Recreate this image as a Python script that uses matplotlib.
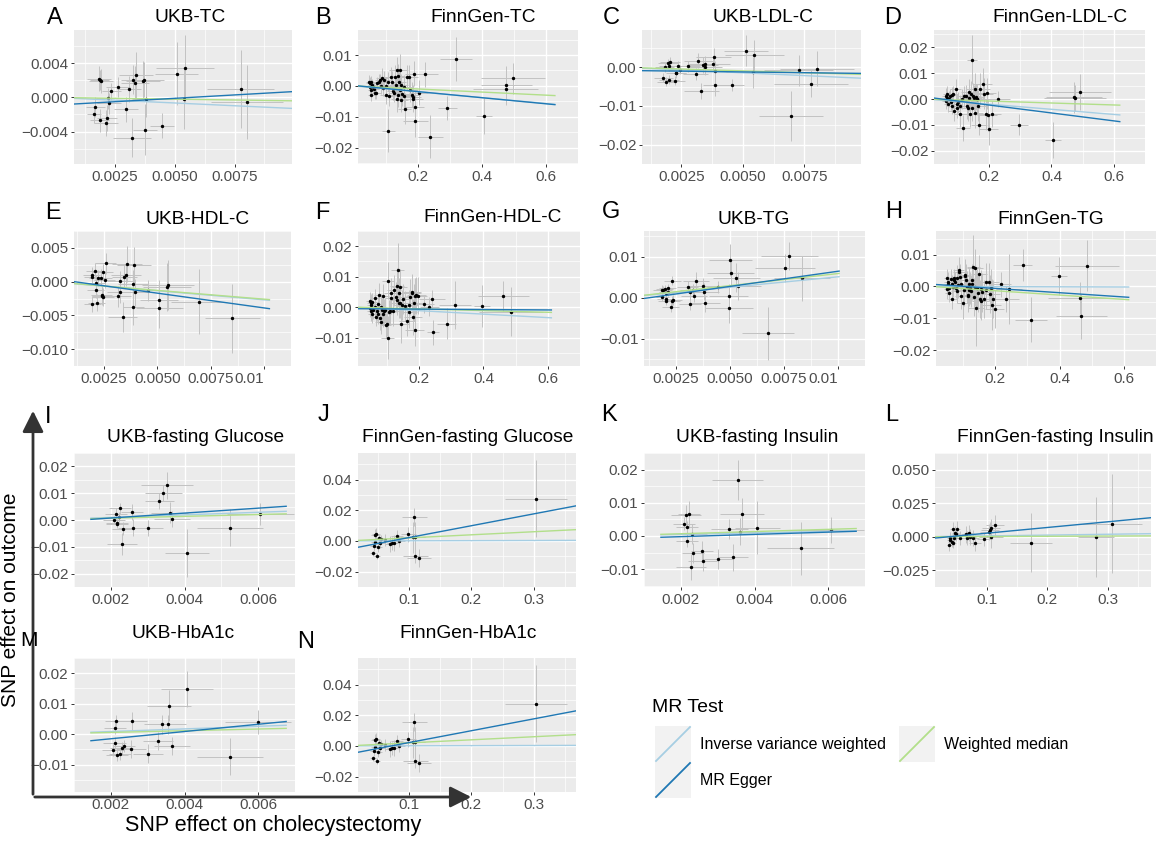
import numpy as np
import matplotlib
matplotlib.use("Agg")
import matplotlib.pyplot as plt
from matplotlib.patches import Rectangle, FancyArrowPatch

plt.rcParams['font.family'] = ['Liberation Sans', 'DejaVu Sans']

# ---------------- data: (SNP effect on exposure, on outcome, se_x, se_y) ----------------
A_pts = [(0.00183,0.00221,0.0005,0.0015),(0.00188,0.00206,0.0004,0.0012),(0.00192,0.00190,0.0005,0.0014),
         (0.00235,0.00070,0.0004,0.0010),(0.00222,-0.00010,0.0005,0.0012),(0.00225,-0.00070,0.0005,0.0012),
         (0.00169,-0.00110,0.0004,0.0012),(0.00164,-0.00200,0.0003,0.0010),(0.00188,-0.00270,0.0004,0.0014),
         (0.00218,-0.00240,0.0004,0.0015),(0.00214,-0.00300,0.0005,0.0015),(0.00265,0.00124,0.0005,0.0012),
         (0.00297,-0.00140,0.0005,0.0015),(0.00308,0.00097,0.0005,0.0015),(0.00328,0.00206,0.0005,0.0017),
         (0.00338,0.00260,0.0007,0.0027),(0.00335,0.00167,0.0006,0.0020),(0.00369,0.00198,0.0007,0.0023),
         (0.00374,0.00210,0.0008,0.0021),(0.00322,-0.00470,0.0008,0.0023),(0.00378,-0.00380,0.0005,0.0030),
         (0.00382,-0.00020,0.0006,0.0021),(0.00447,-0.00330,0.0005,0.0015),(0.00508,0.00280,0.0009,0.0037),
         (0.00544,0.00340,0.0012,0.0039),(0.00538,-0.00016,0.0011,0.0035),(0.00776,0.00100,0.0014,0.0046),
         (0.00801,-0.00054,0.0015,0.0043)]
B_pts = [(0.048,0.0014,0.010,0.002),(0.052,0.0009,0.012,0.002),(0.056,0.0013,0.010,0.002),(0.050,-0.0002,0.012,0.002),
         (0.058,0.0003,0.014,0.002),(0.054,-0.0013,0.010,0.002),(0.060,-0.0004,0.012,0.002),(0.063,-0.0011,0.015,0.002),
         (0.056,-0.0029,0.012,0.002),(0.067,-0.0024,0.015,0.002),(0.071,-0.0022,0.014,0.002),(0.074,0.0009,0.015,0.002),
         (0.079,0.0014,0.016,0.0025),(0.082,0.0019,0.015,0.002),(0.086,0.0000,0.016,0.0025),(0.089,0.0027,0.018,0.003),
         (0.093,-0.0008,0.016,0.0025),(0.095,0.0019,0.018,0.003),(0.100,0.0000,0.020,0.003),(0.102,-0.0029,0.018,0.003),
         (0.107,0.0014,0.020,0.003),(0.112,-0.0034,0.018,0.003),(0.116,0.0030,0.020,0.003),(0.119,0.0014,0.022,0.0035),
         (0.123,-0.0015,0.020,0.003),(0.127,-0.0022,0.020,0.003),(0.130,0.0028,0.022,0.004),(0.132,0.0003,0.020,0.003),
         (0.135,0.0052,0.024,0.004),(0.140,0.0032,0.022,0.004),(0.141,0.0011,0.024,0.0035),(0.144,-0.0013,0.022,0.003),
         (0.145,0.0052,0.025,0.005),(0.147,-0.0045,0.024,0.004),(0.149,0.0003,0.022,0.0035),(0.151,-0.0026,0.025,0.004),
         (0.140,-0.0029,0.022,0.004),(0.136,-0.0043,0.020,0.004),(0.156,-0.0004,0.025,0.004),(0.158,-0.0034,0.024,0.004),
         (0.160,-0.0074,0.020,0.005),(0.167,0.0028,0.025,0.004),(0.173,0.0028,0.028,0.004),(0.177,-0.0013,0.025,0.004),
         (0.181,-0.0029,0.026,0.004),(0.184,-0.0037,0.028,0.004),(0.186,-0.0043,0.030,0.004),(0.188,0.0039,0.028,0.004),
         (0.191,-0.0067,0.030,0.005),(0.193,-0.0114,0.040,0.005),(0.203,-0.0022,0.030,0.004),(0.223,0.0037,0.040,0.004),
         (0.108,-0.0145,0.020,0.007),(0.240,-0.0165,0.040,0.007),(0.293,-0.0072,0.030,0.004),(0.319,0.0087,0.050,0.007),
         (0.407,-0.0097,0.025,0.006),(0.474,-0.0011,0.100,0.005),(0.477,0.0004,0.080,0.006),(0.496,0.0024,0.100,0.005)]
C_pts = [(0.00182,0.0000,0.0004,0.0012),(0.00177,-0.0027,0.0004,0.0012),(0.00189,-0.0037,0.0004,0.0012),
         (0.00196,0.0010,0.0004,0.0012),(0.00199,0.0003,0.0004,0.0012),(0.00203,0.0013,0.0004,0.0012),
         (0.00201,-0.0032,0.0004,0.0012),(0.00227,-0.0014,0.0004,0.0012),(0.00230,-0.0016,0.0004,0.0012),
         (0.00226,-0.0035,0.0004,0.0012),(0.00235,0.0003,0.0005,0.0012),(0.00246,-0.0006,0.0005,0.0012),
         (0.00276,0.0002,0.0005,0.0015),(0.00308,-0.0017,0.0005,0.0015),(0.00319,0.0017,0.0006,0.0020),
         (0.00338,0.0006,0.0006,0.0020),(0.00345,0.0008,0.0007,0.0020),(0.00346,0.0000,0.0007,0.0020),
         (0.00331,-0.0062,0.0007,0.0020),(0.00381,0.0025,0.0007,0.0025),(0.00378,0.0009,0.0007,0.0020),
         (0.00388,-0.0010,0.0007,0.0025),(0.00388,-0.0045,0.0005,0.0030),(0.00455,-0.0046,0.0005,0.0015),
         (0.00514,0.0043,0.0009,0.0040),(0.00547,0.0031,0.0012,0.0040),(0.00543,-0.0013,0.0011,0.0040),
         (0.00696,-0.0126,0.0013,0.0065),(0.00727,-0.0008,0.0014,0.0040),(0.00776,-0.0043,0.0015,0.0035),
         (0.00801,-0.0004,0.0015,0.0045)]
D_pts = [(0.061,0.0013,0.012,0.003),(0.064,0.0003,0.012,0.003),(0.061,-0.0007,0.012,0.003),(0.066,0.0020,0.014,0.003),
         (0.068,-0.0020,0.014,0.003),(0.070,0.0000,0.015,0.003),(0.073,0.0010,0.015,0.003),(0.076,-0.0013,0.015,0.003),
         (0.080,-0.0026,0.016,0.003),(0.082,0.0016,0.016,0.003),(0.085,0.0020,0.016,0.003),(0.087,-0.0046,0.018,0.004),
         (0.092,0.0039,0.018,0.004),(0.096,-0.0020,0.018,0.004),(0.098,-0.0033,0.020,0.004),(0.101,-0.0013,0.020,0.004),
         (0.106,-0.0026,0.020,0.004),(0.108,-0.0059,0.020,0.005),(0.113,0.0000,0.022,0.004),(0.115,-0.0111,0.022,0.005),
         (0.120,0.0010,0.022,0.004),(0.125,0.0013,0.022,0.004),(0.129,-0.0026,0.024,0.005),(0.132,-0.0033,0.024,0.005),
         (0.134,0.0026,0.024,0.005),(0.136,0.0003,0.024,0.005),(0.139,-0.0059,0.025,0.005),(0.142,0.0020,0.025,0.005),
         (0.144,-0.0033,0.025,0.005),(0.145,0.0152,0.015,0.0095),(0.148,0.0013,0.025,0.005),(0.151,0.0003,0.026,0.005),
         (0.153,0.0039,0.026,0.006),(0.155,-0.0052,0.026,0.006),(0.158,0.0007,0.026,0.005),(0.160,0.0000,0.028,0.005),
         (0.162,0.0000,0.028,0.006),(0.164,-0.0026,0.028,0.006),(0.167,-0.0099,0.025,0.004),(0.172,0.0039,0.030,0.006),
         (0.179,0.0059,0.030,0.006),(0.183,0.0020,0.030,0.006),(0.189,-0.0059,0.030,0.006),(0.192,0.0023,0.030,0.006),
         (0.195,-0.0063,0.030,0.006),(0.198,-0.0117,0.030,0.006),(0.208,-0.0059,0.030,0.005),(0.228,0.0000,0.040,0.003),
         (0.296,-0.0099,0.030,0.004),(0.405,-0.0158,0.025,0.007),(0.473,0.0007,0.090,0.006),(0.475,0.0003,0.100,0.005),
         (0.492,0.0026,0.100,0.007)]
E_pts = [(0.00192,0.00104,0.0004,0.0012),(0.00195,0.00065,0.0004,0.0012),(0.00206,0.0016,0.0004,0.0012),
         (0.00213,-0.0002,0.0004,0.0012),(0.00212,-0.0012,0.0004,0.0012),(0.00195,-0.0033,0.0004,0.0012),
         (0.00216,-0.0031,0.0004,0.0012),(0.00222,0.0005,0.0004,0.0012),(0.00236,0.0006,0.0005,0.0012),
         (0.00244,0.0014,0.0005,0.0012),(0.00240,-0.0020,0.0005,0.0013),(0.00243,-0.0021,0.0005,0.0013),
         (0.00246,-0.0023,0.0005,0.0013),(0.00254,0.0003,0.0005,0.0013),(0.00258,0.0027,0.0005,0.0015),
         (0.00326,0.0001,0.0006,0.0015),(0.00326,-0.0016,0.0006,0.0015),(0.00315,-0.0022,0.0006,0.0015),
         (0.00346,0.0007,0.0006,0.0017),(0.00353,0.0010,0.0007,0.0017),(0.00357,0.0026,0.0007,0.0027),
         (0.00337,-0.0052,0.0007,0.0022),(0.00385,-0.0003,0.0007,0.0020),(0.00392,0.0024,0.0008,0.0027),
         (0.00395,-0.0016,0.0007,0.0020),(0.00388,-0.0037,0.0005,0.0027),(0.00458,-0.0013,0.0005,0.0015),
         (0.00508,-0.0027,0.0009,0.0030),(0.00508,-0.0039,0.0011,0.0030),(0.00545,-0.0008,0.0011,0.0035),
         (0.00549,-0.0005,0.0012,0.0037),(0.00694,-0.0030,0.0013,0.0048),(0.00851,-0.0054,0.0013,0.0051)]
F_pts = [(0.046,0.0020,0.012,0.003),(0.049,0.0013,0.012,0.003),(0.051,0.0007,0.012,0.003),(0.047,-0.0003,0.012,0.003),
         (0.049,-0.0014,0.012,0.003),(0.052,-0.0021,0.012,0.003),(0.055,0.0018,0.013,0.003),(0.058,-0.0009,0.013,0.003),
         (0.062,0.0002,0.014,0.003),(0.064,0.0029,0.014,0.003),(0.067,-0.0032,0.014,0.003),(0.069,-0.0014,0.015,0.003),
         (0.071,-0.0024,0.015,0.003),(0.073,0.0011,0.015,0.003),(0.076,0.0041,0.016,0.004),(0.078,-0.0035,0.016,0.004),
         (0.080,-0.0049,0.016,0.004),(0.082,0.0002,0.016,0.004),(0.085,-0.0009,0.017,0.004),(0.087,-0.0024,0.017,0.004),
         (0.089,0.0036,0.017,0.004),(0.091,-0.0014,0.018,0.004),(0.094,-0.0009,0.018,0.004),(0.096,-0.0060,0.018,0.004),
         (0.100,-0.0056,0.018,0.004),(0.103,0.0087,0.018,0.006),(0.105,-0.0017,0.020,0.004),(0.110,-0.0014,0.020,0.004),
         (0.112,0.0045,0.020,0.005),(0.114,0.0029,0.020,0.005),(0.119,-0.0011,0.020,0.005),(0.123,0.0055,0.022,0.005),
         (0.128,0.0034,0.022,0.005),(0.130,0.0023,0.022,0.005),(0.132,0.0068,0.022,0.006),(0.134,0.0121,0.020,0.009),
         (0.136,0.0045,0.022,0.005),(0.138,0.0015,0.024,0.005),(0.139,0.0066,0.024,0.006),(0.141,0.0013,0.024,0.005),
         (0.143,-0.0056,0.024,0.006),(0.146,0.0007,0.024,0.005),(0.150,0.0026,0.025,0.005),(0.155,0.0004,0.025,0.005),
         (0.161,-0.0046,0.025,0.005),(0.167,-0.0017,0.026,0.005),(0.170,0.0007,0.026,0.005),(0.173,0.0034,0.026,0.006),
         (0.177,0.0047,0.028,0.006),(0.179,0.0050,0.028,0.006),(0.182,-0.0032,0.028,0.006),(0.185,0.0015,0.028,0.006),
         (0.186,-0.0076,0.030,0.005),(0.188,0.0036,0.030,0.006),(0.191,0.0039,0.030,0.006),(0.195,0.0038,0.030,0.006),
         (0.215,0.0010,0.030,0.003),(0.232,0.0002,0.030,0.003),(0.241,0.0028,0.040,0.003),(0.243,-0.0083,0.020,0.004),
         (0.286,-0.0054,0.030,0.005),(0.311,0.0007,0.050,0.008),(0.396,0.0004,0.025,0.007),(0.462,0.0036,0.080,0.005),
         (0.485,-0.0015,0.100,0.008),(0.103,-0.0100,0.020,0.007)]
G_pts = [(0.00183,0.0020,0.0004,0.0010),(0.00185,0.0002,0.0003,0.0010),(0.00190,0.0018,0.0004,0.0010),
         (0.00196,0.0022,0.0004,0.0010),(0.00201,0.0011,0.0004,0.0010),(0.00202,-0.0004,0.0004,0.0010),
         (0.00205,-0.0007,0.0004,0.0010),(0.00210,0.0023,0.0004,0.0010),(0.00212,0.0013,0.0004,0.0010),
         (0.00225,-0.0022,0.0004,0.0012),(0.00230,-0.0008,0.0004,0.0012),(0.00235,-0.0006,0.0004,0.0012),
         (0.00232,0.0042,0.0004,0.0012),(0.00303,0.0027,0.0005,0.0015),(0.00313,0.0013,0.0005,0.0015),
         (0.00314,-0.0016,0.0005,0.0015),(0.00326,0.0019,0.0006,0.0015),(0.00332,0.0004,0.0006,0.0015),
         (0.00341,0.0042,0.0006,0.0020),(0.00373,0.0029,0.0007,0.0020),(0.00378,0.0015,0.0007,0.0020),
         (0.00382,-0.0014,0.0007,0.0020),(0.00445,0.0027,0.0005,0.0015),(0.00494,0.0004,0.0009,0.0030),
         (0.00494,-0.0026,0.0011,0.0035),(0.00501,0.0092,0.0010,0.0040),(0.00502,0.0061,0.0011,0.0030),
         (0.00529,0.0049,0.0011,0.0035),(0.00535,0.0029,0.0011,0.0035),(0.00676,-0.0087,0.0012,0.0065),
         (0.00753,0.0073,0.0014,0.0035),(0.00775,0.0102,0.0013,0.0035),(0.00833,0.0047,0.0013,0.0055)]
H_pts = [(0.050,0.0026,0.010,0.003),(0.052,0.0014,0.010,0.003),(0.053,0.0009,0.012,0.003),(0.055,0.0001,0.012,0.003),
         (0.056,-0.0006,0.012,0.003),(0.050,-0.0009,0.010,0.003),(0.057,-0.0020,0.012,0.003),(0.062,0.0024,0.014,0.003),
         (0.065,0.0007,0.014,0.003),(0.066,-0.0041,0.014,0.003),(0.068,-0.0002,0.015,0.003),(0.071,0.0019,0.015,0.003),
         (0.073,0.0026,0.015,0.003),(0.075,0.0014,0.016,0.003),(0.077,-0.0006,0.016,0.003),(0.080,-0.0013,0.016,0.004),
         (0.082,0.0026,0.016,0.004),(0.084,0.0003,0.017,0.004),(0.086,0.0051,0.017,0.004),(0.088,0.0044,0.018,0.004),
         (0.091,0.0031,0.018,0.004),(0.093,-0.0030,0.018,0.004),(0.095,0.0007,0.018,0.004),(0.100,-0.0053,0.020,0.005),
         (0.102,-0.0011,0.020,0.005),(0.105,0.0037,0.020,0.005),(0.107,0.0033,0.020,0.005),(0.109,0.0020,0.022,0.005),
         (0.111,-0.0002,0.022,0.005),(0.114,-0.0028,0.022,0.005),(0.116,-0.0030,0.022,0.005),(0.118,0.0009,0.022,0.005),
         (0.120,-0.0011,0.024,0.005),(0.123,-0.0006,0.024,0.005),(0.125,-0.0016,0.024,0.005),(0.127,0.0019,0.024,0.005),
         (0.129,0.0006,0.024,0.005),(0.132,0.0061,0.020,0.010),(0.135,-0.0034,0.025,0.006),(0.136,-0.0002,0.025,0.006),
         (0.138,0.0059,0.025,0.006),(0.141,-0.0067,0.025,0.012),(0.144,-0.0006,0.025,0.006),(0.147,-0.0020,0.026,0.006),
         (0.150,0.0040,0.026,0.006),(0.153,-0.0039,0.026,0.006),(0.155,-0.0046,0.026,0.006),(0.156,-0.0007,0.028,0.006),
         (0.159,-0.0019,0.028,0.006),(0.164,-0.0039,0.028,0.006),(0.171,0.0014,0.028,0.006),(0.173,-0.0011,0.028,0.006),
         (0.182,0.0014,0.030,0.006),(0.185,-0.0025,0.030,0.006),(0.186,-0.0006,0.030,0.006),(0.189,-0.0057,0.030,0.008),
         (0.193,-0.0039,0.030,0.006),(0.198,-0.0072,0.030,0.006),(0.218,0.0006,0.030,0.004),(0.235,-0.0039,0.040,0.004),
         (0.244,-0.0007,0.040,0.011),(0.286,0.0066,0.030,0.005),(0.311,-0.0104,0.050,0.007),(0.398,0.0033,0.025,0.006),
         (0.464,-0.0037,0.100,0.005),(0.468,-0.0094,0.080,0.007),(0.485,0.0065,0.100,0.008)]
I_pts = [(0.00208,0.0000,0.0003,0.0015),(0.00213,0.0024,0.0003,0.0020),(0.00216,-0.0011,0.0003,0.0015),
         (0.00216,-0.0016,0.0003,0.0015),(0.00222,0.0011,0.0003,0.0020),(0.00226,0.0044,0.0003,0.0020),
         (0.00232,-0.0032,0.0003,0.0025),(0.00230,-0.0090,0.0004,0.0040),(0.00257,0.0029,0.0003,0.0030),
         (0.00259,-0.0028,0.0004,0.0030),(0.00302,-0.0030,0.0004,0.0030),(0.00332,0.0071,0.0004,0.0030),
         (0.00342,0.0100,0.0005,0.0030),(0.00353,0.0130,0.0007,0.0050),(0.00360,0.0027,0.0005,0.0040),
         (0.00366,0.0003,0.0005,0.0030),(0.00407,-0.0124,0.0006,0.0090),(0.00524,-0.0028,0.0009,0.0070),
         (0.00606,0.0022,0.0009,0.0040)]
J_pts = [(0.042,-0.0080,0.005,0.0015),(0.044,-0.0035,0.006,0.003),(0.045,-0.0004,0.006,0.003),(0.046,0.0037,0.007,0.004),
         (0.047,0.0045,0.007,0.004),(0.048,-0.0096,0.005,0.002),(0.050,-0.0041,0.006,0.003),(0.052,0.0016,0.007,0.003),
         (0.054,-0.0016,0.007,0.003),(0.055,0.0012,0.006,0.003),(0.062,0.0008,0.008,0.004),(0.069,-0.0020,0.008,0.005),
         (0.072,-0.0016,0.008,0.004),(0.075,-0.0014,0.008,0.005),(0.081,0.0030,0.010,0.004),(0.084,0.0000,0.010,0.004),
         (0.099,0.0043,0.012,0.005),(0.108,0.0155,0.020,0.006),(0.106,0.0023,0.020,0.010),(0.110,0.0023,0.015,0.010),
         (0.110,-0.0096,0.020,0.005),(0.116,-0.0112,0.020,0.006),(0.304,0.0276,0.050,0.025)]
K_pts = [(0.00209,0.0037,0.0003,0.002),(0.00214,0.0064,0.0004,0.003),(0.00216,0.0026,0.0003,0.002),
         (0.00216,-0.0014,0.0003,0.002),(0.00222,0.0065,0.0003,0.004),(0.00230,0.0007,0.0004,0.003),
         (0.00233,-0.0051,0.0003,0.003),(0.00228,-0.0093,0.0004,0.004),(0.00257,-0.0045,0.0003,0.003),
         (0.00259,-0.0076,0.0004,0.003),(0.00302,-0.0069,0.0004,0.003),(0.00332,0.0020,0.0005,0.003),
         (0.00342,-0.0065,0.0004,0.004),(0.00354,0.0168,0.0007,0.006),(0.00360,0.0013,0.0005,0.004),
         (0.00366,0.0065,0.0006,0.005),(0.00408,0.0025,0.0006,0.008),(0.00525,-0.0037,0.0009,0.008),
         (0.00607,0.0018,0.0009,0.004)]
L_pts = [(0.038,-0.0063,0.004,0.004),(0.039,-0.0008,0.005,0.004),(0.040,-0.0021,0.005,0.004),(0.042,-0.0036,0.006,0.004),
         (0.044,0.0059,0.005,0.005),(0.044,-0.0046,0.005,0.004),(0.046,-0.0008,0.006,0.005),(0.048,0.0027,0.006,0.005),
         (0.049,0.0017,0.006,0.005),(0.050,0.0059,0.006,0.006),(0.056,-0.0008,0.007,0.005),(0.066,0.0017,0.008,0.006),
         (0.068,-0.0008,0.008,0.005),(0.071,0.0025,0.008,0.006),(0.073,-0.0004,0.009,0.006),(0.077,-0.0008,0.010,0.006),
         (0.081,-0.0046,0.010,0.006),(0.096,-0.0017,0.012,0.005),(0.104,0.0038,0.015,0.006),(0.106,0.0048,0.015,0.006),
         (0.107,0.0063,0.015,0.007),(0.107,-0.0004,0.020,0.008),(0.114,0.0084,0.015,0.008),(0.173,-0.0046,0.035,0.022),
         (0.281,-0.0004,0.030,0.030),(0.307,0.0096,0.050,0.037)]
M_pts = [(0.00207,-0.0051,0.0003,0.002),(0.00210,-0.0029,0.0003,0.002),(0.00212,0.0019,0.0003,0.002),
         (0.00214,0.0042,0.0003,0.002),(0.00217,-0.0067,0.0003,0.002),(0.00224,-0.0064,0.0003,0.002),
         (0.00229,-0.0045,0.0003,0.002),(0.00236,-0.0039,0.0003,0.002),(0.00255,-0.0048,0.0004,0.003),
         (0.00258,0.0042,0.0004,0.003),(0.00301,-0.0064,0.0004,0.003),(0.00328,-0.0023,0.0004,0.003),
         (0.00340,0.0032,0.0005,0.003),(0.00354,0.0032,0.0005,0.003),(0.00359,0.0094,0.0006,0.005),
         (0.00366,-0.0039,0.0005,0.003),(0.00407,0.0148,0.0007,0.006),(0.00523,-0.0074,0.0009,0.006),
         (0.00600,0.0039,0.0009,0.004)]
N_pts = list(J_pts)

# MR fits: IVW slope, MR Egger (slope, intercept), weighted median slope
A_fit = dict(ivw=-0.13, egger=(0.159, -0.0009), wm=-0.04)
B_fit = dict(ivw=-0.0095, egger=(-0.0099, 0.00014), wm=-0.005)
C_fit = dict(ivw=-0.29, egger=(-0.079, -0.00083), wm=-0.19)
D_fit = dict(ivw=-0.0099, egger=(-0.0153, 0.00075), wm=-0.0038)
E_fit = dict(ivw=-0.27, egger=(-0.438, 0.00048), wm=-0.26)
F_fit = dict(ivw=-0.0057, egger=(-0.00067, -0.0005), wm=-0.0028)
G_fit = dict(ivw=0.51, egger=(0.74, -0.00094), wm=0.59)
H_fit = dict(ivw=-0.0003, egger=(-0.0067, 0.0007), wm=-0.0068)
I_fit = dict(ivw=0.48, egger=(0.92, -0.0011), wm=0.34)
J_fit = dict(ivw=0.001, egger=(0.0771, -0.0055), wm=0.02)
K_fit = dict(ivw=0.23, egger=(0.34, -0.0009), wm=0.33)
L_fit = dict(ivw=0.0062, egger=(0.0425, -0.0016), wm=0.0017)
M_fit = dict(ivw=0.43, egger=(1.19, -0.0039), wm=0.28)
N_fit = dict(J_fit)

titles = ['UKB-TC', 'FinnGen-TC', 'UKB-LDL-C', 'FinnGen-LDL-C', 'UKB-HDL-C', 'FinnGen-HDL-C', 'UKB-TG',
          'FinnGen-TG', 'UKB-fasting Glucose', 'FinnGen-fasting Glucose', 'UKB-fasting Insulin',
          'FinnGen-fasting Insulin', 'UKB-HbA1c', 'FinnGen-HbA1c']
letters = list('ABCDEFGHIJKLMN')

# tick sets
xt_ukb1 = ([0.0025, 0.005, 0.0075], ['0.0025', '0.0050', '0.0075'])
xt_ukb2 = ([0.0025, 0.005, 0.0075, 0.01], ['0.0025', '0.0050', '0.0075', '0.01'])
xt_fg = ([0.2, 0.4, 0.6], ['0.2', '0.4', '0.6'])
xt_ukb3 = ([0.002, 0.004, 0.006], ['0.002', '0.004', '0.006'])
xt_fg2 = ([0.1, 0.2, 0.3], ['0.1', '0.2', '0.3'])

# ---------------- layout ----------------
W, H = 1159, 842
fig = plt.figure(figsize=(W / 100, H / 100), dpi=100)

COL_IVW, COL_EGG, COL_WM = '#A6CEE3', '#1F78B4', '#B2DF8A'

panels = [
    (A_pts, A_fit, (74, 292, 30, 164), (0.0008, 0.0099), (-0.0078, 0.0079), xt_ukb1,
     ([-0.004, 0, 0.004], ['\u22120.004', '0.000', '0.004']), (55, 18), (190, 18)),
    (B_pts, B_fit, (358, 578, 30, 164), (0.014, 0.628), (-0.0253, 0.0181), xt_fg,
     ([-0.02, -0.01, 0, 0.01], ['\u22120.02', '\u22120.01', '0.00', '0.01']), (323, 18), (483, 18)),
    (C_pts, C_fit, (642, 861, 30, 164), (0.0009, 0.0098), (-0.0204, 0.0096), xt_ukb1,
     ([-0.02, -0.01, 0], ['\u22120.02', '\u22120.01', '0.00']), (611, 18), (763, 18)),
    (D_pts, D_fit, (934, 1145, 30, 164), (0.023, 0.619), (-0.0251, 0.0267), xt_fg,
     ([-0.02, -0.01, 0, 0.01, 0.02], ['\u22120.02', '\u22120.01', '0.00', '0.01', '0.02']), (893, 18), (1060, 18)),
    (E_pts, E_fit, (74, 291, 231, 366), (0.0011, 0.01024), (-0.0113, 0.0063), xt_ukb2,
     ([-0.01, -0.005, 0, 0.005], ['\u22120.010', '\u22120.005', '0.000', '0.005']), (53, 213), (198, 219)),
    (F_pts, F_fit, (358, 580, 231, 366), (0.010, 0.611), (-0.0193, 0.0238), xt_fg,
     ([-0.01, 0, 0.01, 0.02], ['\u22120.01', '0.00', '0.01', '0.02']), (322, 213), (493, 218)),
    (G_pts, G_fit, (644, 865, 231, 366), (0.00101, 0.01005), (-0.0167, 0.0163), xt_ukb2,
     ([-0.01, 0, 0.01], ['\u22120.01', '0.00', '0.01']), (611, 212), (754, 220)),
    (H_pts, H_fit, (936, 1156, 231, 366), (0.016, 0.615), (-0.0198, 0.0174), xt_fg,
     ([-0.02, -0.01, 0, 0.01], ['\u22120.02', '\u22120.01', '0.00', '0.01']), (894, 212), (1051, 220)),
    (I_pts, I_fit, (74, 295, 453, 587), (0.00146, 0.00676), (-0.0232, 0.0202), xt_ukb3,
     ([-0.02, -0.01, 0, 0.01, 0.02], ['\u22120.02', '\u22120.01', '0.00', '0.01', '0.02']), (48, 417), (196, 438)),
    (J_pts, J_fit, (358, 576, 453, 587), (0.018, 0.368), (-0.0246, 0.0573), xt_fg2,
     ([-0.02, 0, 0.02, 0.04], ['\u22120.02', '0.00', '0.02', '0.04']), (323, 415), (468, 438)),
    (K_pts, K_fit, (644, 865, 453, 587), (0.00146, 0.00676), (-0.0154, 0.0246), xt_ukb3,
     ([-0.01, 0, 0.01, 0.02], ['\u22120.01', '0.00', '0.01', '0.02']), (609, 415), (757, 438)),
    (L_pts, L_fit, (935, 1151, 453, 587), (0.0144, 0.372), (-0.034, 0.0503), xt_fg2,
     ([-0.025, 0, 0.025, 0.05], ['\u22120.025', '0.000', '0.025', '0.050']), (892, 415), (1055, 438)),
    (M_pts, M_fit, (74, 295, 658, 792), (0.00146, 0.00676), (-0.019, 0.0216), xt_ukb3,
     ([-0.01, 0, 0.01, 0.02], ['\u22120.01', '0.00', '0.01', '0.02']), (29, 641), (183, 634)),
    (N_pts, N_fit, (358, 576, 658, 792), (0.018, 0.368), (-0.0246, 0.0573), xt_fg2,
     ([-0.02, 0, 0.02, 0.04], ['\u22120.02', '0.00', '0.02', '0.04']), (306, 642), (468, 634)),
]


def minor_between(ticks):
    t = list(ticks)
    step = t[1] - t[0]
    return [t[0] - step / 2] + [a + step / 2 for a in t]


overlay = fig.add_axes([0, 0, 1, 1], zorder=10)
overlay.set_xlim(0, W)
overlay.set_ylim(H, 0)
overlay.axis('off')

for k, (pts, fit, rect, xlim, ylim, xt, yt, lpos, tpos) in enumerate(panels):
    x0, x1, y0, y1 = rect
    ax = fig.add_axes([x0 / W, 1 - y1 / H, (x1 - x0) / W, (y1 - y0) / H])
    ax.set_facecolor('#EBEBEB')
    for s in ax.spines.values():
        s.set_visible(False)
    xs = [p[0] for p in pts]
    ys = [p[1] for p in pts]
    xe = [p[2] for p in pts]
    ye = [p[3] for p in pts]
    ax.errorbar(xs, ys, yerr=ye, fmt='none', ecolor='#C2C2C2', elinewidth=0.7, capsize=0, zorder=2)
    ax.errorbar(xs, ys, xerr=xe, fmt='none', ecolor='#C2C2C2', elinewidth=0.7, capsize=0, zorder=2)
    ax.scatter(xs, ys, s=6, color='black', linewidths=0, zorder=3)
    lx = np.array(xlim)
    ax.plot(lx, fit['ivw'] * lx, color=COL_IVW, lw=1.0, zorder=4)
    ax.plot(lx, fit['wm'] * lx, color=COL_WM, lw=1.0, zorder=4)
    ax.plot(lx, fit['egger'][0] * lx + fit['egger'][1], color=COL_EGG, lw=1.0, zorder=5)
    ax.set_xlim(xlim)
    ax.set_ylim(ylim)
    ax.set_xticks(xt[0])
    ax.set_xticklabels(xt[1])
    ax.set_xticks(minor_between(xt[0]), minor=True)
    ax.set_yticks(yt[0])
    ax.set_yticklabels(yt[1])
    ax.set_yticks(minor_between(yt[0]), minor=True)
    ax.set_axisbelow(True)
    ax.grid(which='major', color='white', lw=1.0)
    ax.grid(which='minor', color='white', lw=0.5)
    ax.tick_params(which='major', length=2.5, width=0.7, color='#333333', labelsize=11,
                   labelcolor='#4D4D4D', pad=1.5)
    ax.tick_params(which='minor', length=0)
    if xt[1][-1] == '0.01':
        ax.get_xticklabels()[-1].set_horizontalalignment('right')
    lsize = 15 if letters[k] == 'M' else 17
    overlay.text(lpos[0], lpos[1], letters[k], fontsize=lsize, ha='center', va='center', color='black')
    overlay.text(tpos[0], tpos[1], titles[k], fontsize=13.8, ha='center', va='center', color='black')

# big axis arrows
overlay.add_patch(FancyArrowPatch((33, 797), (33, 408), arrowstyle='-|>,head_length=8,head_width=4',
                                  color='#333333', lw=2, mutation_scale=1.6))
overlay.add_patch(FancyArrowPatch((32, 797), (474, 797), arrowstyle='-|>,head_length=8,head_width=4',
                                  color='#333333', lw=2, mutation_scale=1.6))
overlay.text(11, 600, 'SNP effect on outcome', rotation=90, fontsize=15, ha='center', va='center')
overlay.text(273, 826, 'SNP effect on cholecystectomy', fontsize=15.5, ha='center', va='center')

# legend
overlay.text(652, 708, 'MR Test', fontsize=14, ha='left', va='center')
leg = [(COL_IVW, 'Inverse variance weighted', 655, 726), (COL_EGG, 'MR Egger', 655, 762),
       (COL_WM, 'Weighted median', 899, 726)]
for col, lab, kx, ky in leg:
    overlay.add_patch(Rectangle((kx, ky), 36, 36, facecolor='#F2F2F2', edgecolor='none'))
    overlay.plot([kx + 1, kx + 35], [ky + 35, ky + 1], color=col, lw=1.3)
    overlay.text(kx + 45, ky + 18, lab, fontsize=11.5, ha='left', va='center')

fig.savefig('out.png', dpi=100)
